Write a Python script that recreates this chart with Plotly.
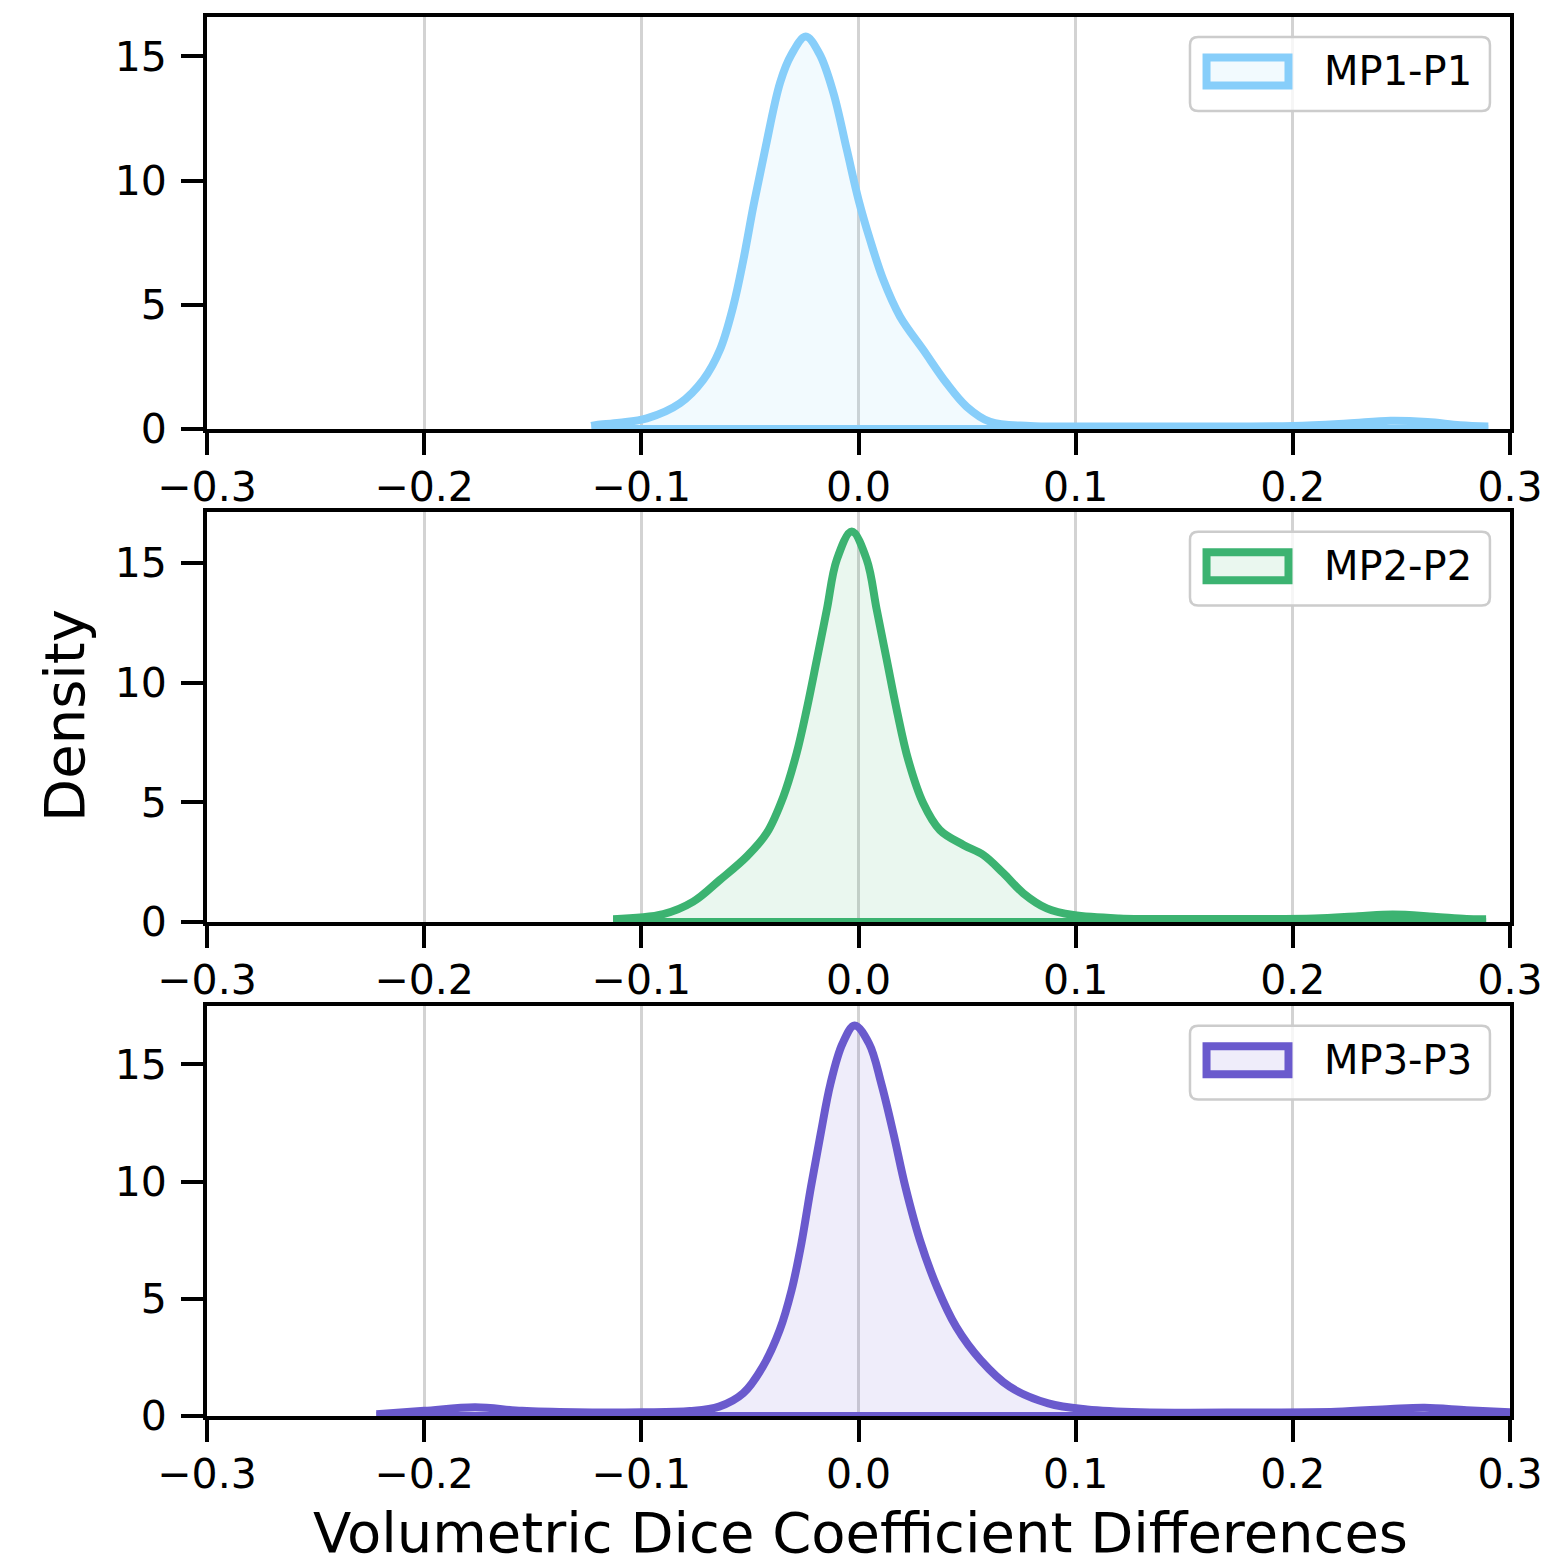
import plotly.graph_objects as go

# ---------------- data ----------------
x_tick_values = [-0.3, -0.2, -0.1, 0.0, 0.1, 0.2, 0.3]
x_tick_labels = ["\u22120.3", "\u22120.2", "\u22120.1", "0.0", "0.1", "0.2", "0.3"]
y_tick_values = [0, 5, 10, 15]
y_tick_labels = ["0", "5", "10", "15"]

series_names = ["MP1-P1", "MP2-P2", "MP3-P3"]

mp1_x = [-0.123, -0.1206, -0.110, -0.0975, -0.0822, -0.0715, -0.0638, -0.0577, -0.053,
         -0.0484, -0.043, -0.0361, -0.031, -0.0243, -0.018, -0.0116, -0.0054, 0.0,
         0.0053, 0.0114, 0.0191, 0.0298, 0.0406, 0.0498, 0.0606, 0.079, 0.10, 0.15,
         0.20, 0.225, 0.245, 0.262, 0.277, 0.29]
mp1_density = [0.12, 0.16, 0.25, 0.43, 1.04, 1.98, 3.19, 4.93, 6.81,
               8.96, 11.25, 13.94, 15.05, 15.79, 15.1, 13.54, 11.25, 9.23,
               7.62, 6.01, 4.53, 3.19, 1.84, 0.90, 0.29, 0.12, 0.10, 0.10,
               0.12, 0.22, 0.33, 0.28, 0.15, 0.10]

mp2_x = [-0.113, -0.0899, -0.0761, -0.0638, -0.0515, -0.0423, -0.0346, -0.0285, -0.0239,
         -0.0192, -0.0146, -0.010, -0.0031, 0.0038, 0.0084, 0.013, 0.0176, 0.0229,
         0.0298, 0.0375, 0.0483, 0.0575, 0.0667, 0.0759, 0.0867, 0.0989, 0.12, 0.17,
         0.21, 0.23, 0.246, 0.265, 0.28, 0.289]
mp2_density = [0.12, 0.33, 0.85, 1.76, 2.73, 3.71, 5.24, 7.05, 8.86,
               10.95, 13.04, 15.13, 16.31, 15.13, 13.04, 10.95, 8.86, 6.77,
               4.96, 3.84, 3.22, 2.80, 2.04, 1.20, 0.57, 0.29, 0.15, 0.13,
               0.15, 0.24, 0.31, 0.22, 0.13, 0.12]

mp3_x = [-0.222, -0.20, -0.1765, -0.155, -0.13, -0.0999, -0.0776, -0.0642, -0.0531,
         -0.0441, -0.0363, -0.0308, -0.0263, -0.0219, -0.0174, -0.0129, -0.0074, -0.0018,
         0.0049, 0.0105, 0.0161, 0.0216, 0.0283, 0.0361, 0.045, 0.0562, 0.0696, 0.0874,
         0.1052, 0.13, 0.18, 0.22, 0.245, 0.2607, 0.28, 0.30]
mp3_density = [0.08, 0.22, 0.37, 0.22, 0.16, 0.16, 0.21, 0.40, 0.97,
               2.10, 3.66, 5.37, 7.36, 9.77, 12.05, 14.18, 15.88, 16.66,
               15.88, 14.18, 12.05, 9.77, 7.50, 5.51, 3.80, 2.39, 1.25, 0.54,
               0.28, 0.16, 0.15, 0.18, 0.30, 0.35, 0.25, 0.16]

x_label = "Volumetric Dice Coefficient Differences"
y_label = "Density"

# ---------------- styles ----------------
line_colors = ["#87CEFA", "#3CB371", "#6A5ACD"]
fill_colors = ["rgba(135,206,250,0.11)", "rgba(60,179,113,0.11)", "rgba(106,90,205,0.11)"]
FONT = "DejaVu Sans"
LINE_W = 8
y_domains = [[0.7055, 1.0], [0.3531, 0.6462], [0.0, 0.2931]]

xs_all = [mp1_x, mp2_x, mp3_x]
ds_all = [mp1_density, mp2_density, mp3_density]

fig = go.Figure()
for i in range(3):
    ax = "" if i == 0 else str(i + 1)
    xs, ds = xs_all[i], ds_all[i]
    fig.add_trace(go.Scatter(
        x=xs, y=ds, mode="lines", name=series_names[i],
        line=dict(color=line_colors[i], width=LINE_W, shape="spline", smoothing=1.0),
        fill="tozeroy", fillcolor=fill_colors[i],
        xaxis="x" + ax, yaxis="y" + ax, showlegend=False, hoverinfo="skip"))
    # bottom edge of the filled KDE polygon
    fig.add_trace(go.Scatter(
        x=[xs[0], xs[-1]], y=[0, 0], mode="lines",
        line=dict(color=line_colors[i], width=LINE_W),
        xaxis="x" + ax, yaxis="y" + ax, showlegend=False, hoverinfo="skip"))

axis_common = dict(
    showline=True, linecolor="black", linewidth=4, mirror=True,
    ticks="outside", ticklen=22, tickwidth=4, tickcolor="black",
    zeroline=False, automargin=False,
    tickfont=dict(family=FONT, size=41, color="black"),
)

layout = dict(
    width=1546, height=1565,
    margin=dict(l=207, r=36, t=17, b=149, autoexpand=False),
    paper_bgcolor="white", plot_bgcolor="white",
    font=dict(family=FONT, color="black"),
    showlegend=False,
)
for i in range(3):
    ax = "" if i == 0 else str(i + 1)
    ymax = max(ds_all[i]) * 1.05
    layout["xaxis" + ax] = dict(
        axis_common, domain=[0, 1], anchor="y" + ax, range=[-0.3, 0.3],
        tickmode="array", tickvals=x_tick_values, ticktext=x_tick_labels,
        showgrid=True, gridcolor="#d3d3d3", gridwidth=2.5, ticklabelstandoff=-3)
    layout["yaxis" + ax] = dict(
        axis_common, domain=y_domains[i], anchor="x" + ax, range=[0, ymax],
        tickmode="array", tickvals=y_tick_values, ticktext=y_tick_labels,
        showgrid=False, ticklabelstandoff=6)
fig.update_layout(**layout)


def rounded_rect(x0, y0, x1, y1, rx, ry):
    return (f"M {x0 + rx},{y0} L {x1 - rx},{y0} Q {x1},{y0} {x1},{y0 + ry} "
            f"L {x1},{y1 - ry} Q {x1},{y1} {x1 - rx},{y1} L {x0 + rx},{y1} "
            f"Q {x0},{y1} {x0},{y1 - ry} L {x0},{y0 + ry} Q {x0},{y0} {x0 + rx},{y0} Z")


shapes = []
annotations = []
for i in range(3):
    ax = "" if i == 0 else str(i + 1)
    xr, yr = "x" + ax + " domain", "y" + ax + " domain"
    shapes.append(dict(type="path", xref=xr, yref=yr,
                       path=rounded_rect(0.7544, 0.7718, 0.9846, 0.9515, 0.0062, 0.0195),
                       line=dict(color="#cccccc", width=2.5),
                       fillcolor="rgba(255,255,255,0.8)", layer="above"))
    shapes.append(dict(type="rect", xref=xr, yref=yr,
                       x0=0.7671, x1=0.8300, y0=0.8337, y1=0.9017,
                       line=dict(color=line_colors[i], width=8),
                       fillcolor=fill_colors[i], layer="above"))
    annotations.append(dict(xref=xr, yref=yr, x=0.8555, y=0.868,
                            xanchor="left", yanchor="middle", showarrow=False,
                            text=series_names[i],
                            font=dict(family=FONT, size=40, color="black")))

annotations.append(dict(xref="paper", yref="paper", x=-0.109, y=0.5011,
                        xanchor="center", yanchor="middle", showarrow=False,
                        text=y_label, textangle=-90,
                        font=dict(family=FONT, size=56, color="black")))
# x-axis label: box bottom sits on the figure's bottom edge so it is not clipped
annotations.append(dict(xref="paper", yref="paper", x=0.5019, y=-149 / 1399,
                        xanchor="center", yanchor="bottom", showarrow=False,
                        borderpad=0, borderwidth=0,
                        text=x_label,
                        font=dict(family=FONT, size=56, color="black")))

fig.update_layout(shapes=shapes, annotations=annotations)
fig.write_html("out.html",
               config={"displayModeBar": False},
               post_script="document.body.style.margin='0px';"
                           "document.body.style.overflow='hidden';")
